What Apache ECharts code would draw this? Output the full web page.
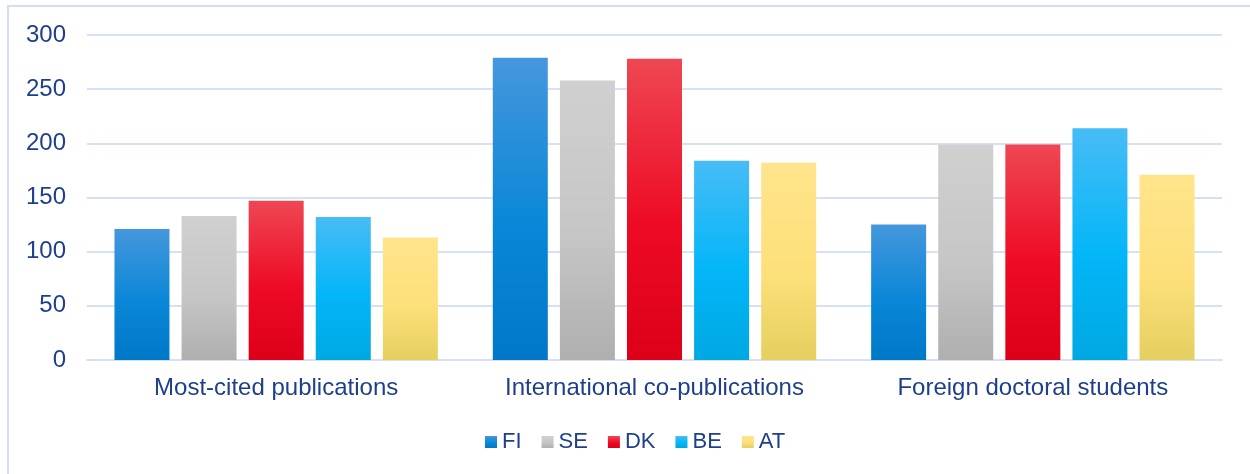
<!DOCTYPE html>
<html>
<head>
<meta charset="utf-8">
<script src="https://cdn.jsdelivr.net/npm/echarts@6/dist/echarts.min.js"></script>
<style>
  html, body { margin: 0; padding: 0; background: #fff; }
  #chart { width: 1250px; height: 474px; }
</style>
</head>
<body>
<div id="chart"></div>
<script>
const categories = ['Most-cited publications', 'International co-publications', 'Foreign doctoral students']
const fiValues = [121, 279, 125]
const seValues = [133, 258, 199]
const dkValues = [147, 278, 199]
const beValues = [132, 184, 214]
const atValues = [113, 182, 171]

const textColor = '#1f3f8c'
const gridColor = '#d6e1f6'

function grad (top, mid, bottom) {
  return new echarts.graphic.LinearGradient(0, 0, 0, 1, [
    { offset: 0, color: top },
    { offset: 0.55, color: mid },
    { offset: 1, color: bottom }
  ])
}

function bar (name, data, color) {
  return {
    name: name,
    type: 'bar',
    data: data,
    barWidth: 55,
    barGap: '22%',
    itemStyle: { color: color }
  }
}

const chart = echarts.init(document.getElementById('chart'))
chart.setOption({
  animation: false,
  textStyle: { fontFamily: 'Liberation Sans', color: textColor },
  graphic: [{
    type: 'rect',
    shape: { x: 8, y: 6, width: 1300, height: 500 },
    style: { fill: 'none', stroke: '#d3def6', lineWidth: 2 },
    z: -1
  }],
  grid: { left: 87, right: 28, top: 35, bottom: 114 },
  legend: {
    top: 426,
    left: 480,
    padding: [5, 5, 5, 5],
    icon: 'rect',
    itemWidth: 12,
    itemHeight: 12,
    itemGap: 20,
    textStyle: { fontSize: 22, color: textColor },
    data: ['FI', 'SE', 'DK', 'BE', 'AT']
  },
  xAxis: {
    type: 'category',
    data: categories,
    axisTick: { show: false },
    axisLine: { lineStyle: { color: gridColor, width: 2 } },
    axisLabel: { fontSize: 24, color: textColor, margin: 16, interval: 0 }
  },
  yAxis: {
    type: 'value',
    min: 0,
    max: 300,
    interval: 50,
    axisLine: { show: false },
    axisTick: { show: false },
    axisLabel: { fontSize: 24, color: textColor, margin: 21 },
    splitLine: { lineStyle: { color: gridColor, width: 2 } }
  },
  series: [
    bar('FI', fiValues, grad('#4597dc', '#0a87d8', '#0078c8')),
    bar('SE', seValues, grad('#d0d0d0', '#c6c6c6', '#afafaf')),
    bar('DK', dkValues, grad('#ee4753', '#ee0a24', '#dc0018')),
    bar('BE', beValues, grad('#47bcf6', '#03b6f8', '#00a8e2')),
    bar('AT', atValues, grad('#ffe48c', '#fde07a', '#e5cf60'))
  ]
})
</script>
</body>
</html>
